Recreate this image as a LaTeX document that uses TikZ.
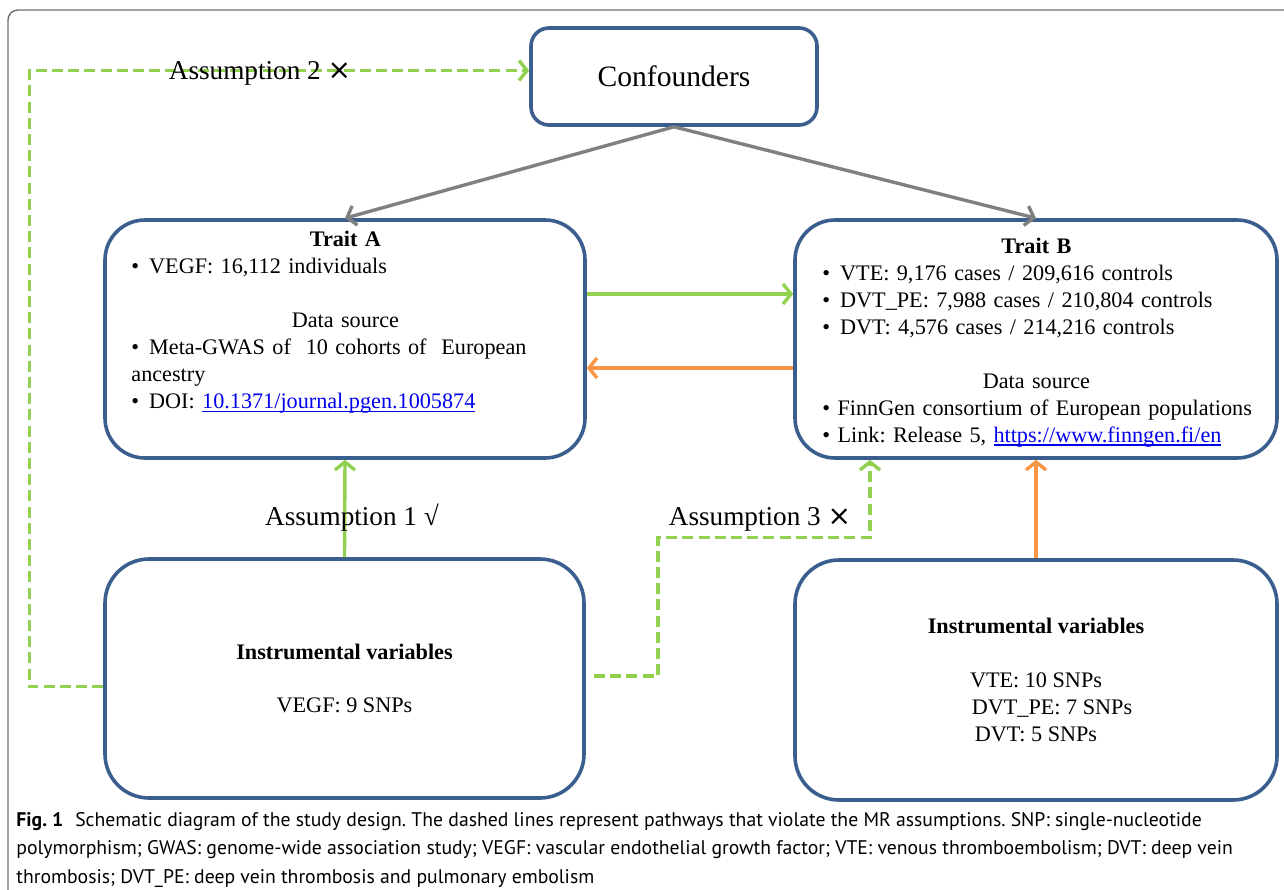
\documentclass[tikz,border=0pt]{standalone}
\usepackage{fontspec}
\setmainfont{Liberation Serif}
\newfontfamily\capfont{PT Sans}
\newfontfamily\symfont{DejaVu Sans}
\usetikzlibrary{arrows.meta,positioning}
\definecolor{boxblue}{HTML}{3A5F8E}
\definecolor{okgreen}{HTML}{92D050}
\definecolor{revorange}{HTML}{F79646}
\definecolor{confgray}{HTML}{808080}
\definecolor{framegray}{HTML}{6E6E6E}
\definecolor{linkblue}{HTML}{0000EE}
\newcommand{\weblink}[1]{\textcolor{linkblue}{\setbox0\hbox{#1}\rlap{\rule[-1.6pt]{\wd0}{0.55pt}}\box0}}
\newcommand{\bul}{•\hspace{5pt}}
\newcommand{\cross}{{\symfont\fontsize{14}{16}\selectfont ×}}
\frenchspacing
\begin{document}
\begin{tikzpicture}[x=0.5pt, y=-0.5pt, box/.style={draw=boxblue, line width=1.8pt, align=center, inner sep=0pt, font=\fontsize{11.1}{13.5}\selectfont}, boxtxt/.style={anchor=north west, inner sep=0pt, font=\fontsize{11.1}{13.5}\selectfont}, arr/.style={-{Straight Barb[length=4pt,width=10pt]}, line width=1.7pt}, viol/.style={arr, okgreen, dash pattern=on 5.5pt off 2.6pt}, asm/.style={anchor=base, inner sep=0pt, font=\fontsize{13.6}{16}\selectfont}]
\useasboundingbox (0,0) rectangle (1284,889);
\draw[framegray, line width=0.7pt, rounded corners=5pt] (8,10) rectangle (1330,940);
% boxes
\node[box, rounded corners=9pt, minimum width=143pt, minimum height=48.5pt, font=\fontsize{14.8}{18}\selectfont] (conf) at (674,76.5) {Confounders};
\node[box, rounded corners=20pt, minimum width=240pt, minimum height=119pt] (traitA) at (345,339) {}; \node[box, rounded corners=20pt, minimum width=241pt, minimum height=119pt] (traitB) at (1036,339) {};
\node[box, rounded corners=22pt, minimum width=239.5pt, minimum height=119.5pt] (ivA) at (344.5,678.5) {\textbf{Instrumental variables}\\[13pt]VEGF: 9 SNPs};
\node[box, rounded corners=22pt, minimum width=241pt, minimum height=120pt] (ivB) at (1036,680) {\textbf{Instrumental variables}\\[13.8pt]VTE: 10 SNPs\\\hspace*{16pt}DVT\_PE: 7 SNPs\\DVT: 5 SNPs};
% box texts
\node[boxtxt, text width=214pt] (traitAtxt) at (131,231) {\raggedright{\centering\textbf{Trait A}\par}\bul VEGF: 16,112 individuals\par\mbox{}\par{\centering Data source\par}\mbox{\bul Meta-GWAS of\ \ 10 cohorts of\ \ European}\par ancestry\par\bul DOI: \weblink{10.1371/journal.pgen.1005874}\par};
\node[boxtxt, text width=214pt] (traitBtxt) at (822,237.5) {\raggedright{\centering\textbf{Trait B}\par}\bul VTE: 9,176 cases / 209,616 controls\par\bul DVT\_PE: 7,988 cases / 210,804 controls\par\bul DVT: 4,576 cases / 214,216 controls\par\mbox{}\par{\centering Data source\par}\mbox{• FinnGen consortium of European populations}\par\mbox{• Link: Release 5, \weblink{https://www.finngen.fi/en}}\par};
% connectors
\draw[arr, confgray] (conf.south) -- (traitA.north); \draw[arr, confgray] (conf.south) -- (traitB.north);
\draw[arr, okgreen] ([yshift=22.5pt]traitA.east) -- ([yshift=22.5pt]traitB.west); \draw[arr, revorange] ([yshift=-14.5pt]traitB.west) -- ([yshift=-14.5pt]traitA.east);
\draw[arr, okgreen] (ivA.north) -- (traitA.south); \draw[arr, revorange] (ivB.north) -- (traitB.south);
\draw[viol] ([yshift=-4pt]ivA.west) -- ++(-74,0) |- ([yshift=3pt]conf.west);
\coordinate (ivAout) at (594,676);
\draw[viol] (ivAout) -- ++(64,0) |- (870,537.5) -- ([xshift=-83pt]traitB.south);
% labels
\node[asm] (asm1) at (352,525) {Assumption 1 √}; \node[asm] (asm2) at (260,79) {Assumption 2 \cross}; \node[asm] (asm3) at (760,525) {Assumption 3 \cross};
% caption
\node[anchor=north west, inner sep=0pt, align=left, font=\capfont\fontsize{9.85}{14.25}\selectfont] (caption) at (16,812) {{\bfseries Fig. 1}\hspace{6pt}Schematic diagram of the study design. The dashed lines represent pathways that violate the MR assumptions. SNP: single-nucleotide\\polymorphism; GWAS: genome-wide association study; VEGF: vascular endothelial growth factor; VTE: venous thromboembolism; DVT: deep vein\\thrombosis; DVT\_PE: deep vein thrombosis and pulmonary embolism};
\end{tikzpicture}
\end{document}
